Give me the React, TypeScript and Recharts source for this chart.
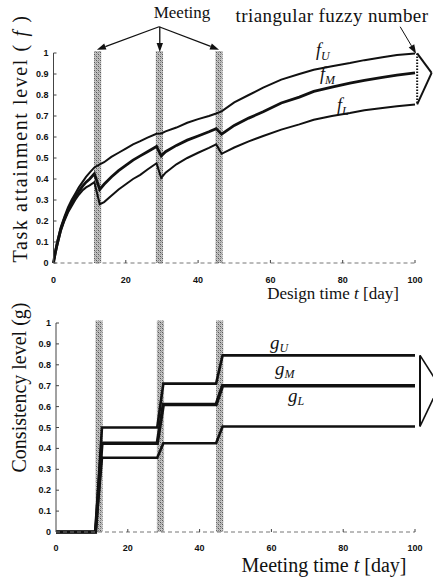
import React from 'react';
import { LineChart, Line, XAxis, YAxis, ReferenceArea, ReferenceLine } from 'recharts';

// ---------- data: top chart (task attainment level f) ----------
const topTime = [0, 0.5, 1, 2, 3, 4, 5, 6, 7, 8, 9, 10, 11.3, 12.8, 14, 16, 18, 20, 22, 24, 26, 28.5, 29.8, 31, 34, 37, 40, 43, 45, 46.5, 50, 54, 58, 63, 68, 72, 77, 82, 86, 91, 95, 100];
const fU = [0, 0.06, 0.1, 0.17, 0.22, 0.265, 0.3, 0.33, 0.36, 0.385, 0.41, 0.43, 0.455, 0.47, 0.48, 0.505, 0.525, 0.545, 0.565, 0.58, 0.597, 0.615, 0.617, 0.627, 0.645, 0.668, 0.685, 0.7, 0.712, 0.722, 0.765, 0.8, 0.835, 0.873, 0.9, 0.92, 0.937, 0.952, 0.966, 0.98, 0.99, 0.998];
const fM = [0, 0.05, 0.09, 0.16, 0.21, 0.25, 0.285, 0.315, 0.34, 0.365, 0.385, 0.4, 0.425, 0.35, 0.375, 0.41, 0.44, 0.465, 0.49, 0.51, 0.53, 0.555, 0.51, 0.53, 0.56, 0.585, 0.605, 0.625, 0.64, 0.613, 0.655, 0.69, 0.72, 0.762, 0.79, 0.817, 0.838, 0.857, 0.87, 0.884, 0.895, 0.905];
const fL = [0, 0.04, 0.08, 0.15, 0.2, 0.24, 0.27, 0.3, 0.325, 0.345, 0.36, 0.37, 0.385, 0.28, 0.29, 0.32, 0.35, 0.375, 0.4, 0.42, 0.445, 0.475, 0.405, 0.43, 0.47, 0.5, 0.525, 0.548, 0.565, 0.52, 0.55, 0.579, 0.605, 0.635, 0.66, 0.682, 0.7, 0.714, 0.727, 0.738, 0.746, 0.755];

// ---------- data: bottom chart (consistency level g) ----------
const botTime = [0, 11, 12.8, 28.2, 29.9, 44.6, 46.4, 100];
const gU = [0, 0, 0.5, 0.5, 0.71, 0.71, 0.845, 0.845];
const gM = [0, 0, 0.425, 0.425, 0.61, 0.61, 0.7, 0.7];
const gL = [0, 0, 0.355, 0.355, 0.425, 0.425, 0.505, 0.505];

// ---------- meetings ----------
const meetingStart = [11.2, 28.3, 44.8];
const meetingEnd = [13.2, 30.3, 46.8];

// ---------- ticks ----------
const xTicks = [0, 20, 40, 60, 80, 100];
const yTicks = [0, 0.1, 0.2, 0.3, 0.4, 0.5, 0.6, 0.7, 0.8, 0.9, 1];

const topData = topTime.map((t, i) => ({ t, fU: fU[i], fM: fM[i], fL: fL[i] }));
const botData = botTime.map((t, i) => ({ t, gU: gU[i], gM: gM[i], gL: gL[i] }));

const SANS = "'Liberation Sans', Arial, sans-serif";
const SERIF = "'Liberation Serif', 'Times New Roman', serif";
const INK = '#111';

const makeXTick = (offset: number) => (props: any) => {
  const { x, y, payload } = props;
  return (
    <g>
      {payload.value !== 0 && <line x1={x} x2={x} y1={y} y2={y - 3} stroke="#444" />}
      <text x={x} y={y + offset} textAnchor="middle" dominantBaseline="central" fontFamily={SANS} fontSize={9} fontWeight="bold" fill={INK}>
        {String(payload.value)}
      </text>
    </g>
  );
};

const YTick = (props: any) => {
  const { x, y, payload } = props;
  return (
    <g>
      <line x1={x} x2={x + 3} y1={y} y2={y} stroke="#444" />
      <text x={x - 5} y={y} textAnchor="end" dominantBaseline="central" fontFamily={SANS} fontSize={9} fontWeight="bold" fill={INK}>
        {String(payload.value)}
      </text>
    </g>
  );
};

const arrowShape = (head: boolean, opts: { dash?: string; width?: number } = {}) => (p: any) => {
  const { x1, y1, x2, y2 } = p;
  const dx = x2 - x1;
  const dy = y2 - y1;
  const len = Math.sqrt(dx * dx + dy * dy) || 1;
  const ux = dx / len;
  const uy = dy / len;
  const L = 9;
  const w = 3.2;
  const bx = x2 - ux * L;
  const by = y2 - uy * L;
  const pts = `${x2},${y2} ${bx - uy * w},${by + ux * w} ${bx + uy * w},${by - ux * w}`;
  return (
    <g>
      <line x1={x1} y1={y1} x2={head ? bx : x2} y2={head ? by : y2} stroke={INK} strokeWidth={opts.width ?? 1.3} strokeDasharray={opts.dash} />
      {head && <polygon points={pts} fill={INK} />}
    </g>
  );
};

const Hatch = ({ id }: { id: string }) => (
  <defs>
    <pattern id={id} width="4" height="4" patternUnits="userSpaceOnUse">
      <rect width="4" height="4" fill="#c2c2c2" />
      <rect x="0" y="0" width="1" height="1" fill="#555" />
      <rect x="2" y="2" width="1" height="1" fill="#555" />
      <rect x="2" y="0" width="1" height="1" fill="#888" />
      <rect x="0" y="2" width="1" height="1" fill="#888" />
      <rect x="1" y="1" width="1" height="1" fill="#999" />
      <rect x="3" y="3" width="1" height="1" fill="#999" />
    </pattern>
  </defs>
);

const apex = { x: 29.2, y: 1.125 };
const nTop = fU.length - 1;
const nBot = gU.length - 1;

export default function App() {
  return (
    <div style={{ position: 'absolute', left: 0, top: 0, width: 433, height: 583, background: '#fff', overflow: 'hidden' }}>
      <div style={{ position: 'absolute', left: 0, top: 0 }}>
        <LineChart width={433} height={290} data={topData} margin={{ top: 53, right: 18, bottom: 0, left: 0 }}>
          <Hatch id="hatchTop" />
          <XAxis dataKey="t" type="number" domain={[0, 100]} ticks={xTicks} interval={0} height={27} tickSize={0} tickMargin={0}
            tick={makeXTick(17)} axisLine={{ stroke: '#777', strokeDasharray: '4 3' }} tickLine={false} />
          <YAxis type="number" domain={[0, 1]} ticks={yTicks} interval={0} width={53.5} tickSize={0} tickMargin={0}
            tick={<YTick />} axisLine={{ stroke: '#444' }} tickLine={false} />
          {meetingStart.map((s, i) => (
            <ReferenceArea key={'m' + i} x1={s} x2={meetingEnd[i]} y1={0} y2={1.01} ifOverflow="visible"
              fill="url(#hatchTop) #a0a0a0" fillOpacity={1} stroke="none" />
          ))}
          <Line type="linear" dataKey="fU" stroke={INK} strokeWidth={2} dot={false} isAnimationActive={false} />
          <Line type="linear" dataKey="fM" stroke={INK} strokeWidth={2.8} dot={false} isAnimationActive={false} />
          <Line type="linear" dataKey="fL" stroke={INK} strokeWidth={2} dot={false} isAnimationActive={false} />
          {/* Meeting arrows */}
          <ReferenceLine segment={[apex, { x: 12.0, y: 1.016 }]} ifOverflow="visible" shape={arrowShape(true)} />
          <ReferenceLine segment={[{ x: 29.4, y: apex.y }, { x: 29.4, y: 1.005 }]} ifOverflow="visible" shape={arrowShape(true)} />
          <ReferenceLine segment={[apex, { x: 45.8, y: 1.016 }]} ifOverflow="visible" shape={arrowShape(true)} />
          <ReferenceLine segment={[{ x: 95.9, y: 1.125 }, { x: 100.3, y: 0.997 }]} ifOverflow="visible" shape={arrowShape(true, { width: 1 })} />
          {/* triangular fuzzy number */}
          <ReferenceLine segment={[{ x: 100.6, y: fU[nTop] }, { x: 100.6, y: fL[nTop] }]} ifOverflow="visible" shape={arrowShape(false, { dash: '1.5 1.5', width: 2 })} />
          <ReferenceLine segment={[{ x: 100.6, y: fU[nTop] }, { x: 104.6, y: fM[nTop] }]} ifOverflow="visible" shape={arrowShape(false, { width: 2 })} />
          <ReferenceLine segment={[{ x: 104.6, y: fM[nTop] }, { x: 100.6, y: fL[nTop] }]} ifOverflow="visible" shape={arrowShape(false, { width: 2 })} />
        </LineChart>
      </div>
      <div style={{ position: 'absolute', left: 0, top: 290 }}>
        <LineChart width={433} height={293} data={botData} margin={{ top: 33, right: 18, bottom: 24, left: 0 }}>
          <Hatch id="hatchBot" />
          <XAxis dataKey="t" type="number" domain={[0, 100]} ticks={xTicks} interval={0} height={27} tickSize={0} tickMargin={0}
            tick={makeXTick(16)} axisLine={{ stroke: '#777', strokeDasharray: '4 3' }} tickLine={false} />
          <YAxis type="number" domain={[0, 1]} ticks={yTicks} interval={0} width={56} tickSize={0} tickMargin={0}
            tick={<YTick />} axisLine={{ stroke: '#444' }} tickLine={false} />
          {meetingStart.map((s, i) => (
            <ReferenceArea key={'b' + i} x1={s - 0.2} x2={meetingEnd[i] - 0.2} y1={0} y2={1.012} ifOverflow="visible"
              fill="url(#hatchBot) #a0a0a0" fillOpacity={1} stroke="none" />
          ))}
          <Line type="linear" dataKey="gU" stroke={INK} strokeWidth={2.6} dot={false} isAnimationActive={false} />
          <Line type="linear" dataKey="gL" stroke={INK} strokeWidth={2.6} dot={false} isAnimationActive={false} />
          <Line type="linear" dataKey="gM" stroke={INK} strokeWidth={3.4} dot={false} isAnimationActive={false} />
          <ReferenceLine segment={[{ x: 101.4, y: gU[nBot] }, { x: 101.4, y: gL[nBot] }]} ifOverflow="visible" shape={arrowShape(false, { width: 2 })} />
          <ReferenceLine segment={[{ x: 101.4, y: gU[nBot] }, { x: 106.8, y: gM[nBot] }]} ifOverflow="visible" shape={arrowShape(false, { width: 1.6 })} />
          <ReferenceLine segment={[{ x: 106.8, y: gM[nBot] }, { x: 101.4, y: gL[nBot] }]} ifOverflow="visible" shape={arrowShape(false, { width: 1.6 })} />
        </LineChart>
      </div>
      <svg width={433} height={583} style={{ position: 'absolute', left: 0, top: 0, pointerEvents: 'none' }}>
        <g fontFamily={SERIF} fill={INK}>
          <text x={182} y={12} textAnchor="middle" dominantBaseline="central" fontSize={17}>Meeting</text>
          <text x={332} y={15} textAnchor="middle" dominantBaseline="central" fontSize={19} letterSpacing={0.4}>triangular fuzzy number</text>
          <text transform="translate(20,138.5) rotate(-90)" textAnchor="middle" dominantBaseline="central" fontSize={20} letterSpacing={1.6}>
            Task attainment level (<tspan fontStyle="italic"> f </tspan>)
          </text>
          <text transform="translate(19,387.5) rotate(-90)" textAnchor="middle" dominantBaseline="central" fontSize={20}>
            Consistency level (g)
          </text>
          <text x={333} y={293} textAnchor="middle" dominantBaseline="central" fontSize={17}>
            Design time <tspan fontStyle="italic">t</tspan> [day]
          </text>
          <text x={324} y={565} textAnchor="middle" dominantBaseline="central" fontSize={20}>
            Meeting time <tspan fontStyle="italic">t</tspan> [day]
          </text>
          <g fontStyle="italic">
            <text x={316} y={56} fontSize={18}>f<tspan dy={4} fontSize={12}>U</tspan></text>
            <text x={320} y={80} fontSize={18}>f<tspan dy={4} fontSize={12}>M</tspan></text>
            <text x={337} y={111} fontSize={18}>f<tspan dy={4} fontSize={12}>L</tspan></text>
            <text x={270} y={349} fontSize={19}>g<tspan dy={3} fontSize={12}>U</tspan></text>
            <text x={275} y={375} fontSize={19}>g<tspan dy={3} fontSize={12}>M</tspan></text>
            <text x={288} y={402} fontSize={19}>g<tspan dy={3} fontSize={12}>L</tspan></text>
          </g>
        </g>
      </svg>
    </div>
  );
}
